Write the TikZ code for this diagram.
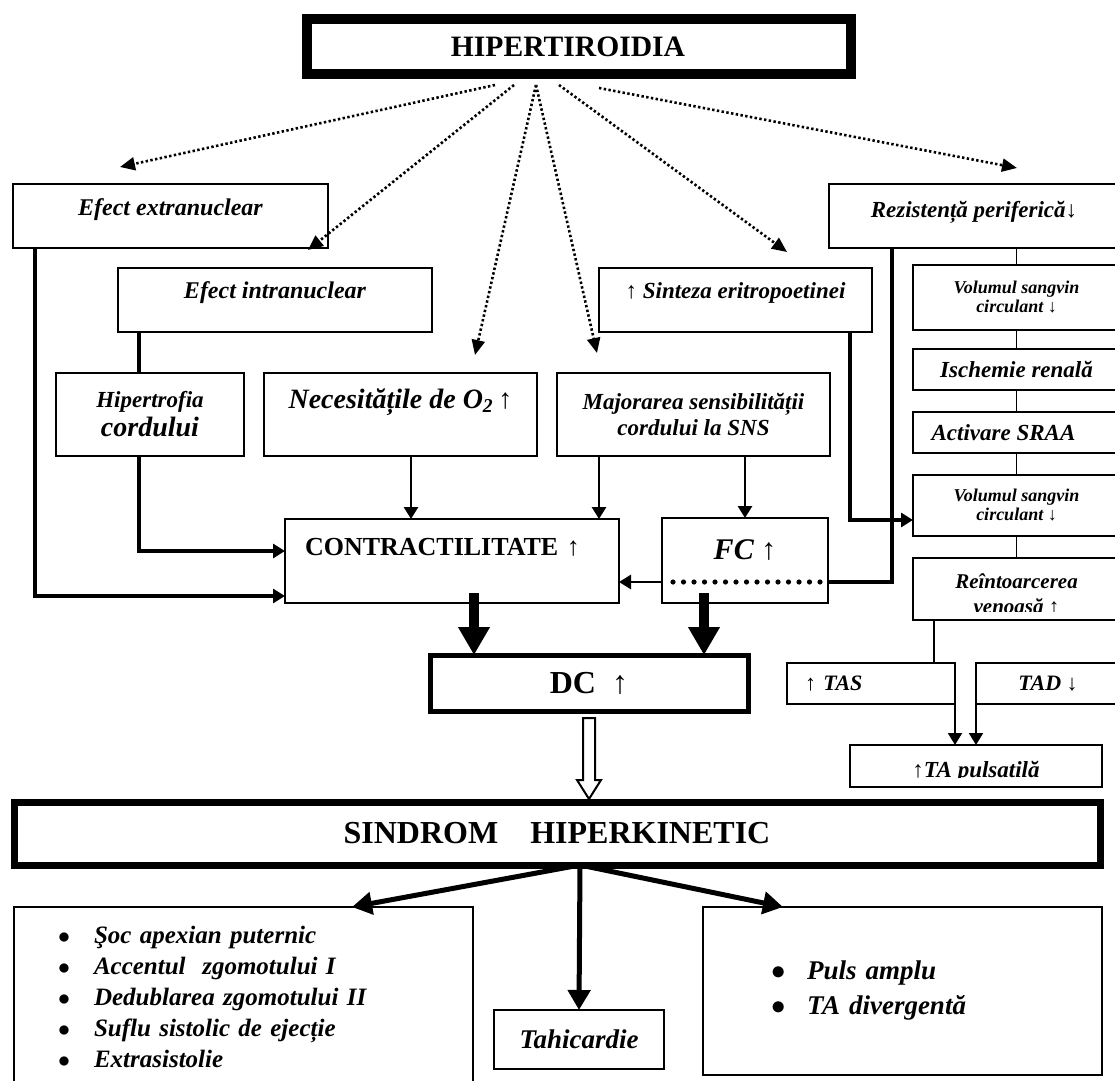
\documentclass[tikz,border=0pt]{standalone}
\usepackage{fontspec}
\setmainfont{Liberation Serif}
\usetikzlibrary{arrows.meta}
\usetikzlibrary{calc}
\newcommand{\fsz}[2]{\fontsize{#1}{#2}\selectfont}
\newcommand{\uarr}{{\mdseries\upshape ↑}}
\newcommand{\darr}{{\mdseries\upshape ↓}}
\newcommand{\blt}{\makebox[18pt][l]{$\bullet$}}
\tikzset{>={Triangle[length=6pt,width=7pt]}}
\tikzset{
    blk/.style={draw, line width=1.4pt, inner sep=0pt, outer sep=0pt, anchor=north west, align=center},
    rblk/.style={blk, line width=1pt},
    sz/.style 2 args={minimum width=#1*0.5pt, minimum height=#2*0.5pt},
    bi/.style 2 args={font=\bfseries\itshape\fsz{#1}{#2}},
    thk/.style={line width=2pt},
    med/.style={line width=1.4pt},
    thn/.style={line width=0.8pt},
    fat/.style={line width=5pt, -{Triangle[length=14pt,width=15pt]}},
    heavy/.style={line width=2.5pt, -{Triangle[length=10pt,width=11pt]}},
    dotarr/.style={line width=1.3pt, dash pattern=on 1.2pt off 1.2pt, -{Triangle[length=7.5pt,width=6.5pt]}},
    fcdots/.style={line width=2.6pt, line cap=round, dash pattern=on 0pt off 5.25pt},
}
\begin{document}
\begin{tikzpicture}[x=0.5pt, y=-0.5pt]
	\useasboundingbox (0,0) rectangle (1115,1081);
	\clip (0,0) rectangle (1115,1081);

	% top
	\node[blk, line width=5pt, sz={544}{55}, font=\bfseries\fsz{14.8}{17}] (hiper) at (307,19) {HIPERTIROIDIA\hspace*{11pt}};

	% left and middle boxes
	\node[blk, sz={315}{64}, bi={12}{14}, text depth=8.6pt] (extra) at (13,184) {Efect extranuclear};
	\node[blk, sz={314}{64}, bi={12}{14}, text depth=9.6pt] (intra) at (118,268) {Efect intranuclear};
	\node[blk, sz={188}{83}, bi={14}{14.5}] (hipert) at (56,373) {{\fsz{11.5}{13}Hipertrofia}\\cordului};
	\node[blk, sz={273}{83}, bi={14}{16}, text depth=16pt] (neces) at (264,373) {Necesitățile de O\textsubscript{2}\,\uarr};
	\node[blk, sz={273}{83}, bi={11.5}{13}] (major) at (557,373) {Majorarea sensibilității\\cordului la SNS};
	\node[blk, sz={273}{64}, bi={11.5}{13}, text depth=9.6pt] (sint) at (599,268) {\uarr\ Sinteza eritropoetinei};
	\node[blk, sz={290}{64}, bi={11.5}{13}, text depth=6.6pt] (rez) at (829,184) {Rezistență periferică\darr};

	% right column
	\node[rblk, sz={207}{65}, bi={9}{9.5}] (vol1) at (913,265) {Volumul sangvin\\circulant \darr};
	\node[rblk, sz={207}{41}, bi={11.5}{13}] (isch) at (913,349) {Ischemie renală};
	\node[rblk, sz={207}{41}, bi={11.5}{13}] (activ) at (913,412) {Activare SRAA\hspace*{13pt}};
	\node[rblk, sz={207}{61}, bi={9}{9.5}] (vol2) at (913,475) {Volumul sangvin\\circulant \darr};
	\node[rblk, sz={207}{62}] (reint) at (913,558) {};
	\begin{scope}
		\clip (913,558) rectangle (1120,611);
		\node[bi={10.5}{12.5}, align=center] (reintT) at ($(reint.center)+(0,5)$) {Reîntoarcerea\\venoasă \uarr};
	\end{scope}
	\node[rblk, sz={168}{41}, bi={11}{13}, text width=66pt, inner xsep=9pt, align=left] (tas) at (787,663) {\uarr\ TAS};
	\node[rblk, sz={144}{41}, bi={11}{13}] (tad) at (976,663) {TAD \darr};
	\node[rblk, sz={252}{42}] (puls) at (850,745) {};
	\begin{scope}
		\clip (850,745) rectangle (1102,777.5);
		\node[bi={11.5}{13}, anchor=base, inner sep=0pt] (pulsT) at ($(puls.south)+(0,-10)$) {\uarr TA pulsatilă};
	\end{scope}

	% heart
	\node[blk, sz={334}{84}, font=\bfseries\fsz{13}{15}, text depth=14pt, text width=147pt, inner xsep=10pt, align=left] (contr) at (285,519) {CONTRACTILITATE \uarr};
	\node[blk, sz={166}{85}, bi={15}{17}, text depth=11pt] (fc) at (662,518) {FC \uarr};
	\node[blk, line width=2.5pt, sz={318}{56}, font=\bfseries\fsz{16}{18}] (dc) at (430,655) {DC\ \ \uarr};

	% syndrome
	\node[blk, line width=3.5pt, sz={1086}{63}, font=\bfseries\fsz{16}{18}] (sind) at (14,802) {SINDROM\hspace{16pt}HIPERKINETIC};
	\node[blk, sz={459}{179}, bi={12.5}{15.5}, text width=185.5pt, inner xsep=22pt, align=left] (symp) at (14,907)
		{\blt Şoc apexian puternic\\
		 \blt Accentul\ \ zgomotului I\\
		 \blt Dedublarea zgomotului II\\
		 \blt Suflu sistolic de ejecție\\
		 \blt Extrasistolie};
	\node[blk, sz={170}{59}, bi={13.5}{16}] (tahi) at (494,1010) {Tahicardie};
	\node[blk, sz={399}{168}, bi={13.5}{17.5}, text width=131.5pt, inner xsep=34pt, align=left] (signs) at (703,907)
		{\blt Puls amplu\\
		 \blt TA divergentă};

	% dotted arrows from the top
	\draw[dotarr] ($(hiper.south west)+(188,11)$) -- ($(extra.north west)+(107,-17)$);
	\draw[dotarr] ($(hiper.south west)+(207,11)$) -- ($(intra.north west)+(190,-18)$);
	\draw[dotarr] ($(hiper.south west)+(229,11)$) -- ($(neces.north west)+(211,-18)$);
	\draw[dotarr] ($(hiper.south west)+(229,11)$) -- ($(major.north west)+(40,-20)$);
	\draw[dotarr] ($(hiper.south west)+(252,11)$) -- ($(sint.north west)+(188,-16)$);
	\draw[dotarr] ($(hiper.south west)+(292,14)$) -- ($(rez.north west)+(188,-16)$);

	% into contractility
	\draw[thk, ->] ($(extra.south west)+(22,0)$) |- ($(contr.south west)+(0,-7)$);
	\draw[thk] ($(intra.south west)+(21,0)$) -- ($(hipert.north west)+(83,0)$);
	\draw[thk, ->] ($(hipert.south west)+(83,0)$) |- ($(contr.north west)+(0,32)$);
	\draw[med, ->] ($(neces.south west)+(147,0)$) -- ($(contr.north west)+(126,0)$);
	\draw[med, ->] ($(major.south west)+(42,0)$) -- ($(contr.north west)+(314,0)$);
	\draw[med, ->] (fc.north |- major.south) -- (fc.north);

	% right feeds
	\draw[thk, ->] ($(sint.south west)+(251,0)$) |- ($(vol2.south west)+(0,-16)$);
	\draw[thk] ($(rez.south west)+(63,0)$) |- ($(fc.south east)+(0,-21)$);
	\draw[fcdots] ($(fc.south east)+(-8,-21)$) -- ($(fc.south west)+(10,-21)$);
	\draw[med, ->] ($(fc.south west)+(0,-21)$) -- ($(contr.south east)+(0,-21)$);

	% output
	\draw[fat] ($(contr.south west)+(189,-10)$) -- ($(dc.north west)+(44,0)$);
	\draw[fat] ($(fc.south west)+(42,-10)$) -- ($(dc.north west)+(274,0)$);
	\draw[line width=1pt, fill=white] ($(dc.south)+(-6,7)$) -- ++(12,0) -- ++(0,62) -- ++(6,0)
		-- ($(sind.north -| dc.south)+(0,-3)$) -- ($(dc.south)+(-12,69)$) -- ++(6,0) -- cycle;

	% right column links
	\draw[thn] (vol1.north |- rez.south) -- (vol1.north);
	\draw[thn] (vol1.south) -- (isch.north);
	\draw[thn] (isch.south) -- (activ.north);
	\draw[thn] (activ.south) -- (vol2.north);
	\draw[thn] (vol2.south) -- (reint.north);
	\draw[thn] ($(reint.south west)+(21,0)$) -- ($(tas.north west)+(147,0)$);
	\draw[line width=1pt, ->] (tas.north east) -- (tas.north east |- puls.north);
	\draw[line width=1pt, ->] (tad.north west) -- (tad.north west |- puls.north);

	% syndrome outputs
	\coordinate (hub) at ($(sind.south)+(23,0)$);
	\draw[heavy] (hub) -- ($(symp.north west)+(338,0)$);
	\draw[heavy] (hub) -- (tahi.north);
	\draw[heavy] (hub) -- ($(signs.north west)+(80,0)$);
\end{tikzpicture}
\end{document}
